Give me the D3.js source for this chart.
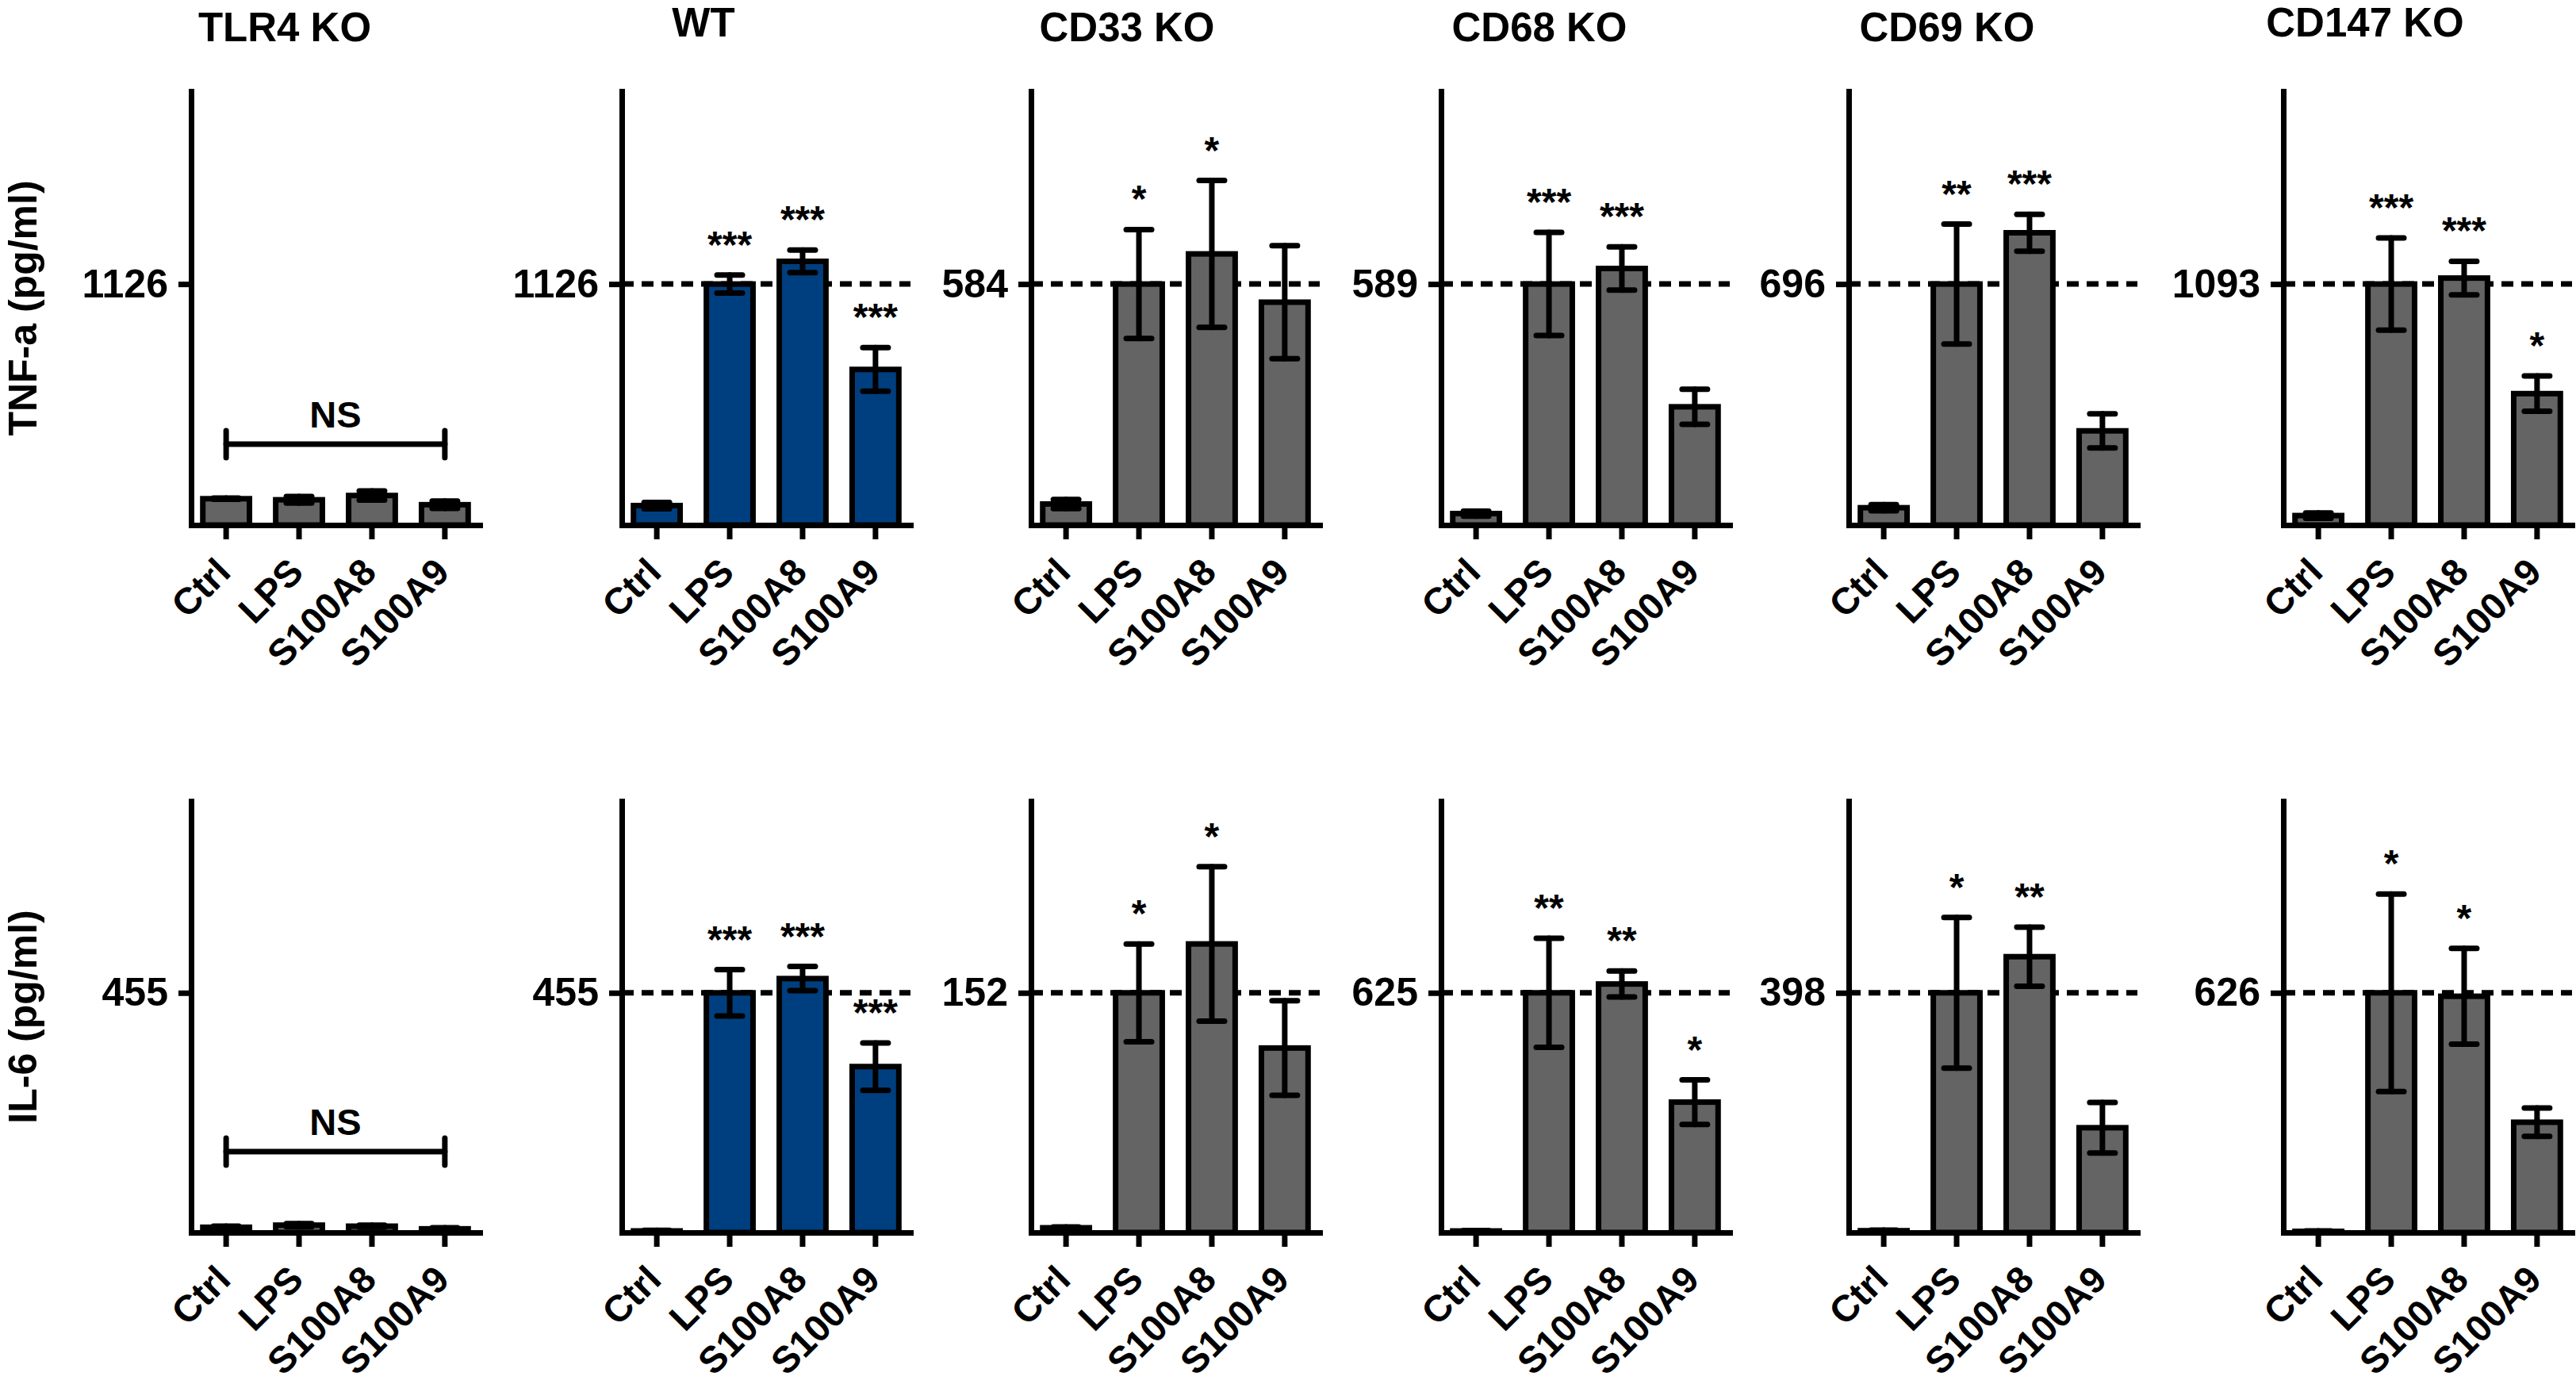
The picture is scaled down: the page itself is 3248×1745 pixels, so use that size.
<!DOCTYPE html>
<html>
<head>
<meta charset="utf-8">
<script src="https://cdn.jsdelivr.net/npm/d3@7"></script>
<style>
  body { margin: 0; background: #fff; }
  svg text { font-family: "Liberation Sans", Arial, Helvetica, sans-serif; font-weight: bold; fill: #000; }
</style>
</head>
<body>
<svg id="chart"></svg>
<script>
// ---- data ----
const groups = ["Ctrl", "LPS", "S100A8", "S100A9"];
const panels = ["TLR4 KO", "WT", "CD33 KO", "CD68 KO", "CD69 KO", "CD147 KO"];

// TNF-a (pg/ml)
const tnfRef = [1126, 1126, 584, 589, 696, 1093];
const tnfMean = [
  [123, 118, 138, 95],
  [91, 1126, 1232, 727],
  [51, 584, 657, 540],
  [28, 589, 627, 289],
  [50, 696, 844, 272],
  [43, 1093, 1120, 596]
];
const tnfErr = [
  [3, 15, 21, 17],
  [15, 42, 53, 102],
  [11, 132, 178, 137],
  [6, 126, 53, 43],
  [9, 173, 53, 49],
  [12, 209, 76, 80]
];
const tnfStars = [
  ["", "", "", ""],
  ["", "***", "***", "***"],
  ["", "*", "*", ""],
  ["", "***", "***", ""],
  ["", "**", "***", ""],
  ["", "***", "***", "*"]
];

// IL-6 (pg/ml)
const il6Ref = [455, 455, 152, 625, 398, 626];
const il6Mean = [
  [10, 14, 12, 7],
  [3, 455, 482, 315],
  [3, 152, 183, 117],
  [4, 625, 648, 340],
  [3, 398, 458, 174],
  [3, 626, 617, 288]
];
const il6Err = [
  [2, 3, 2, 2],
  [1, 44, 23, 45],
  [0.5, 31, 49, 30],
  [1, 142, 34, 58],
  [1, 125, 49, 42],
  [1, 258, 125, 37]
];
const il6Stars = [
  ["", "", "", ""],
  ["", "***", "***", "***"],
  ["", "*", "*", ""],
  ["", "**", "**", "*"],
  ["", "*", "**", ""],
  ["", "*", "*", ""]
];

// ---- layout ----
const panelLeft = [241, 784, 1300, 1817, 2331, 2879];
const titleDx = [118, 103, 121, 124, 124, 103];
const titleY = [52, 46, 52, 52, 52, 46];
const rows = [
  { top: 115, base: 662, label: "TNF-a (pg/ml)", refs: tnfRef, means: tnfMean, errs: tnfErr, stars: tnfStars },
  { top: 1010, base: 1554, label: "IL-6 (pg/ml)", refs: il6Ref, means: il6Mean, errs: il6Err, stars: il6Stars }
];

class BarPanel {
  constructor(_config, _data) {
    this.config = {
      parent: _config.parent,
      left: _config.left,
      top: _config.top,
      base: _config.base,
      width: 364,
      ref: _config.ref,
      fill: _config.fill,
      showRefLine: _config.showRefLine,
      showNS: _config.showNS,
      lineWidth: 7
    };
    this.data = _data;
    this.initVis();
    this.renderVis();
  }

  initVis() {
    let vis = this;
    vis.height = vis.config.base - vis.config.top;

    vis.g = vis.config.parent.append("g")
      .attr("transform", `translate(${vis.config.left},${vis.config.top})`);

    vis.xScale = d3.scaleBand()
      .domain(groups)
      .range([0, vis.config.width])
      .paddingInner(0.36)
      .paddingOuter(0.16);

    // the LPS mean sits at ~55% of the axis height in every panel
    vis.yScale = d3.scaleLinear()
      .domain([0, vis.config.ref * 1.8])
      .range([vis.height, 0]);

    vis.xAxis = d3.axisBottom(vis.xScale).tickSize(18).tickSizeOuter(0);
    vis.yAxis = d3.axisLeft(vis.yScale)
      .tickValues([vis.config.ref])
      .tickSize(16)
      .tickSizeOuter(0)
      .tickPadding(13)
      .tickFormat(d3.format("d"));
  }

  renderVis() {
    let vis = this;
    const lw = vis.config.lineWidth;
    const cx = (d) => vis.xScale(d.group) + vis.xScale.bandwidth() / 2;

    // dashed reference line behind the bars
    if (vis.config.showRefLine) {
      vis.g.append("line")
        .attr("x1", 0)
        .attr("x2", vis.config.width)
        .attr("y1", vis.yScale(vis.config.ref))
        .attr("y2", vis.yScale(vis.config.ref))
        .attr("stroke", "#000")
        .attr("stroke-width", lw)
        .attr("stroke-dasharray", "15,10");
    }

    vis.g.selectAll("rect.bar")
      .data(vis.data)
      .join("rect")
      .attr("class", "bar")
      .attr("x", (d) => vis.xScale(d.group))
      .attr("width", vis.xScale.bandwidth())
      .attr("y", (d) => vis.yScale(d.mean))
      .attr("height", (d) => vis.height - vis.yScale(d.mean))
      .attr("fill", vis.config.fill)
      .attr("stroke", "#000")
      .attr("stroke-width", lw);

    // error bars (SEM)
    const err = vis.g.selectAll("g.err")
      .data(vis.data)
      .join("g")
      .attr("class", "err")
      .attr("stroke", "#000")
      .attr("stroke-width", lw)
      .attr("stroke-linecap", "round");

    err.append("line")
      .attr("x1", cx).attr("x2", cx)
      .attr("y1", (d) => vis.yScale(d.mean - d.err))
      .attr("y2", (d) => vis.yScale(d.mean + d.err));
    [-1, 1].forEach((s) => {
      err.append("line")
        .attr("x1", (d) => cx(d) - 16)
        .attr("x2", (d) => cx(d) + 16)
        .attr("y1", (d) => vis.yScale(d.mean + s * d.err))
        .attr("y2", (d) => vis.yScale(d.mean + s * d.err));
    });

    vis.g.selectAll("text.star")
      .data(vis.data.filter((d) => d.star))
      .join("text")
      .attr("class", "star")
      .attr("x", cx)
      .attr("y", (d) => vis.yScale(d.mean + d.err) - 22)
      .attr("text-anchor", "middle")
      .style("font-size", "48px")
      .text((d) => d.star);

    // axes
    const yAxisG = vis.g.append("g").call(vis.yAxis);
    const xAxisG = vis.g.append("g")
      .attr("transform", `translate(0,${vis.height})`)
      .call(vis.xAxis);

    [yAxisG, xAxisG].forEach((a) => {
      a.selectAll("path.domain, line")
        .attr("stroke", "#000")
        .attr("stroke-width", lw)
        .attr("stroke-linecap", "square");
    });
    yAxisG.selectAll("line").attr("stroke-linecap", "butt");
    yAxisG.selectAll("text")
      .attr("fill", "#000")
      .style("font-size", "50px");
    xAxisG.selectAll("line").attr("stroke-linecap", "butt");
    xAxisG.selectAll("text")
      .attr("fill", "#000")
      .attr("y", 0)
      .attr("dy", 0)
      .attr("text-anchor", "end")
      .attr("transform", "translate(8,62) rotate(-45)")
      .style("font-size", "47px");

    // not-significant bracket
    if (vis.config.showNS) {
      const x0 = vis.xScale(groups[0]) + vis.xScale.bandwidth() / 2;
      const x1 = vis.xScale(groups[3]) + vis.xScale.bandwidth() / 2;
      const yb = vis.height - 102;
      const ns = vis.g.append("g")
        .attr("stroke", "#000")
        .attr("stroke-width", lw)
        .attr("stroke-linecap", "round");
      ns.append("line").attr("x1", x0).attr("x2", x1).attr("y1", yb).attr("y2", yb);
      [x0, x1].forEach((x) => {
        ns.append("line").attr("x1", x).attr("x2", x).attr("y1", yb - 17).attr("y2", yb + 17);
      });
      vis.g.append("text")
        .attr("x", (x0 + x1) / 2)
        .attr("y", yb - 21)
        .attr("text-anchor", "middle")
        .style("font-size", "47px")
        .text("NS");
    }
  }
}

const svg = d3.select("#chart").attr("width", 3248).attr("height", 1745);

// column titles
svg.selectAll("text.title")
  .data(panels)
  .join("text")
  .attr("class", "title")
  .attr("x", (d, i) => panelLeft[i] + titleDx[i])
  .attr("y", (d, i) => titleY[i])
  .attr("text-anchor", "middle")
  .style("font-size", "51px")
  .text((d) => d);

rows.forEach((row) => {
  svg.append("text")
    .attr("transform", `translate(46,${(row.top + row.base) / 2}) rotate(-90)`)
    .attr("text-anchor", "middle")
    .style("font-size", "50px")
    .text(row.label);

  panels.forEach((p, i) => {
    const data = groups.map((g, j) => ({
      group: g,
      mean: row.means[i][j],
      err: row.errs[i][j],
      star: row.stars[i][j]
    }));
    new BarPanel({
      parent: svg,
      left: panelLeft[i],
      top: row.top,
      base: row.base,
      ref: row.refs[i],
      fill: p === "WT" ? "#003f7f" : "#646464",
      showRefLine: p !== "TLR4 KO",
      showNS: p === "TLR4 KO"
    }, data);
  });
});
</script>
</body>
</html>
